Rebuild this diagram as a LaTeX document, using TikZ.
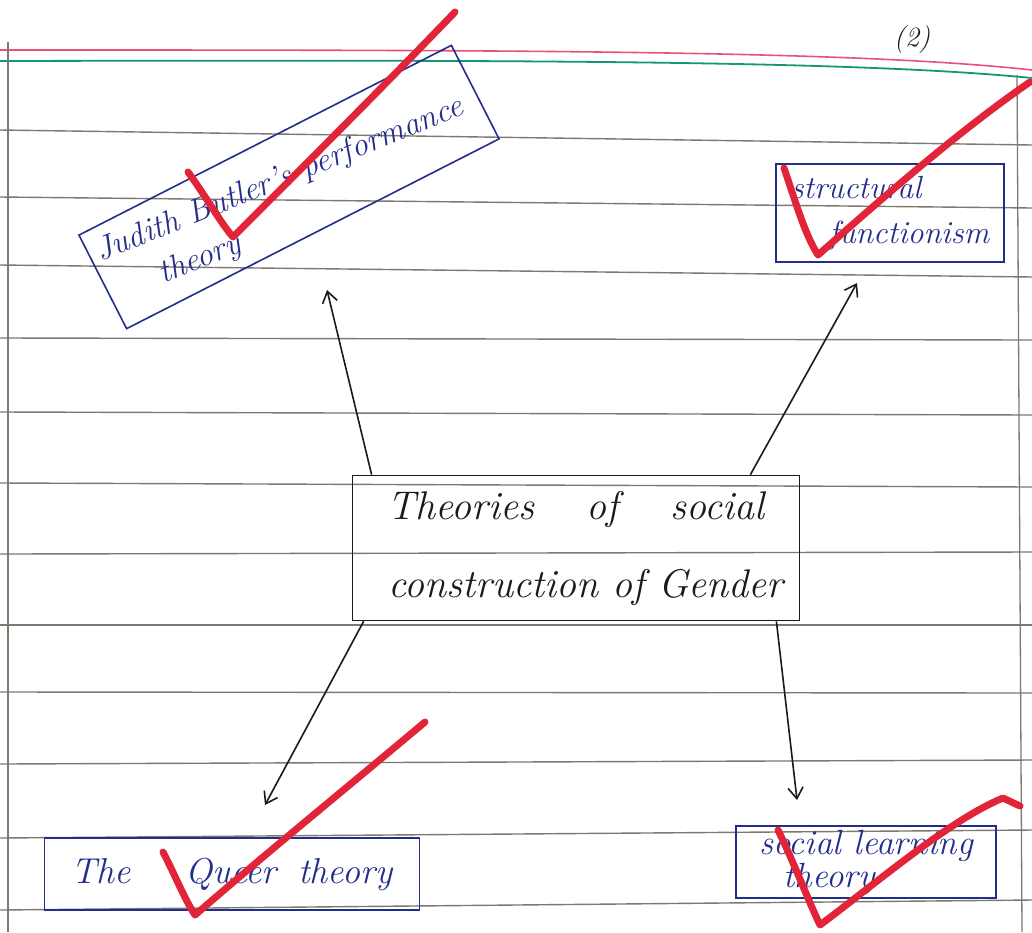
\documentclass[tikz,border=0pt]{standalone}
\usetikzlibrary{arrows.meta}
\definecolor{inkblue}{RGB}{35,45,140}
\definecolor{inkblack}{RGB}{30,25,25}
\definecolor{rulegray}{RGB}{125,120,112}
\definecolor{marginpink}{RGB}{232,80,125}
\definecolor{margingreen}{RGB}{20,150,120}
\definecolor{checkred}{RGB}{226,36,56}
\begin{document}
\begin{tikzpicture}[x=1pt,y=-1pt,
  rule/.style={draw=rulegray,line width=1.4},
  bluebox/.style={draw=inkblue,line width=1.6,text=inkblue,inner sep=4,align=center},
  bluetext/.style={text=inkblue,inner sep=0},
  blackbox/.style={draw=inkblack,line width=1.8,text=inkblack,inner sep=4,align=center},
  link/.style={draw=inkblack,line width=1.6,-{Straight Barb[length=11pt,width=15pt,line width=1.6pt]}},
  check/.style={draw=checkred,line width=7,line cap=round,line join=round}]
\useasboundingbox (0,0) rectangle (1032,932);
\fill[white] (0,0) rectangle (1032,932);
% notebook rules
\foreach \a/\b in {130/145,197/208,265/277,338/340,412/415,483/487,554/552,625/625,692/693,764/760,838/830,910/900}
  \draw[rule] (0,\a) -- (1032,\b);
\draw[marginpink,line width=1.6] (0,50) .. controls (500,50) and (850,50) .. (1032,70);
\draw[margingreen,line width=1.8] (0,61) .. controls (500,60) and (850,60) .. (1032,78);
\draw[rulegray,line width=1.3] (8,42) -- (8,932);
\draw[rulegray,line width=1.3] (1017,75) -- (1022,932);
% page number
\node[text=inkblack,font=\fontsize{28}{30}\selectfont\itshape] (page) at (912,40) {(2)};
% central node
\node[blackbox,minimum width=447,minimum height=145,font=\fontsize{40}{78}\selectfont\itshape] (center) at (576,548)
  {Theories\hspace{1.3em}of\hspace{1.3em}social\\\hspace*{0.5em}construction of Gender};
% Judith Butler box (tilted) and its text
\node[draw=inkblue,line width=1.6,rotate=27,minimum width=418,minimum height=105,inner sep=0] (butler) at (289,187) {};
\node[bluetext,rotate=22,anchor=base west,font=\fontsize{33}{40}\selectfont\itshape] (butlerA) at (100,262)
  {Judith Butler's performance};
\node[bluetext,rotate=22,anchor=base west,font=\fontsize{33}{40}\selectfont\itshape] (butlerB) at (163,284)
  {theory};
% other nodes
\node[bluebox,align=left,minimum width=228,minimum height=98,font=\fontsize{32}{45}\selectfont\itshape] (struct) at (890,213)
  {structural\\\hspace*{1.2em}functionism};
\node[bluebox,minimum width=375,minimum height=72,font=\fontsize{36}{40}\selectfont\itshape] (queer) at (232,874)
  {The\hspace{1.5em}Queer\hspace{0.6em}theory};
\node[bluebox,align=left,inner ysep=1,minimum width=260,minimum height=72,font=\fontsize{35}{33}\selectfont\itshape] (social) at (866,862)
  {social learning\\\hspace*{0.7em}theory};
% arrow tips
\coordinate (tipA) at (327,290);
\coordinate (tipB) at (857,283);
\coordinate (tipC) at (265,805);
\coordinate (tipD) at (797,800);
\draw[link] ([xshift=20]center.north west) -- (tipA);
\draw[link] ([xshift=-50]center.north east) -- (tipB);
\draw[link] ([xshift=12]center.south west) -- (tipC);
\draw[link] ([xshift=-24]center.south east) -- (tipD);
% red check marks
\draw[check] (188,172) .. controls (205,195) and (222,225) .. (233,237) .. controls (300,170) and (380,90) .. (455,12);
\draw[check] (784,168) .. controls (795,200) and (805,235) .. (818,255) .. controls (880,200) and (960,130) .. (1030,82);
\draw[check] (163,852) .. controls (175,875) and (185,900) .. (195,915) .. controls (270,850) and (350,785) .. (425,722);
\draw[check] (778,830) .. controls (795,865) and (808,900) .. (820,925) .. controls (880,880) and (950,820) .. (1003,798) -- (1020,806);
\end{tikzpicture}
\end{document}
